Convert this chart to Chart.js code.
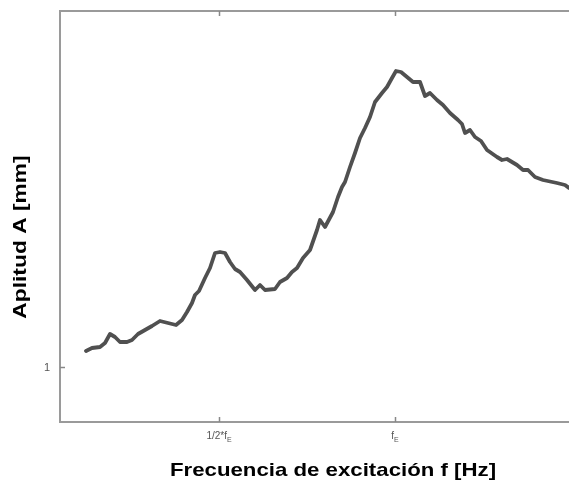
<!DOCTYPE html>
<html><head><meta charset="utf-8">
<script src="https://cdn.jsdelivr.net/npm/chart.js@4/dist/chart.umd.min.js"></script>
<style>html,body{margin:0;padding:0;background:#fff}</style>
</head><body>
<canvas id="c" width="569" height="482"></canvas>
<script>
// Frequency (Hz, with f_E = 352) and amplitude (mm)
const freq = [43,49,57,62,67,72,77,84,89,95,102,109,117,125,133,139,144,149,152,156,162,167,172,177,182,187,192,197,204,212,217,222,232,237,244,249,254,260,267,274,277,282,290,295,299,302,307,312,317,322,327,332,339,344,349,353,358,364,370,377,382,387,394,400,407,415,419,422,427,432,438,444,454,459,464,474,480,485,492,500,514,522,526];
const amplitude = [1.16,1.19,1.20,1.24,1.33,1.30,1.25,1.25,1.27,1.33,1.37,1.41,1.46,1.44,1.42,1.47,1.55,1.64,1.72,1.76,1.89,1.99,2.14,2.15,2.14,2.05,1.98,1.95,1.87,1.77,1.82,1.77,1.78,1.85,1.89,1.95,1.99,2.09,2.17,2.37,2.47,2.40,2.55,2.70,2.80,2.85,3.00,3.14,3.29,3.39,3.50,3.65,3.74,3.80,3.89,3.96,3.95,3.90,3.85,3.85,3.71,3.74,3.67,3.62,3.54,3.47,3.43,3.34,3.37,3.30,3.26,3.17,3.10,3.07,3.08,3.02,2.97,2.97,2.90,2.87,2.84,2.82,2.79];
const xTickValues = [176, 352];
const xTickMain = ['1/2*f', 'f'];
const xTickSub = ['E', 'E'];
const yTickValues = [1];
const yTickLabels = ['1'];
const xTitle = 'Frecuencia de excitación f [Hz]';
const yTitle = 'Aplitud A [mm]';

const AXIS = '#9a9a9a';

const decor = {
  id: 'decor',
  afterDraw(chart) {
    const ctx = chart.ctx, a = chart.chartArea;
    const xs = chart.scales.x, ys = chart.scales.y;
    ctx.save();
    ctx.strokeStyle = AXIS;
    ctx.lineWidth = 2;
    ctx.beginPath();
    ctx.moveTo(a.left - 1, a.top);
    ctx.lineTo(a.right, a.top);
    ctx.stroke();
    ctx.lineWidth = 1.5;
    ctx.strokeStyle = '#888';
    xTickValues.forEach(v => {
      const px = Math.round(xs.getPixelForValue(v)) + 0.5;
      ctx.beginPath();
      ctx.moveTo(px, a.bottom); ctx.lineTo(px, a.bottom - 5);
      ctx.moveTo(px, a.top); ctx.lineTo(px, a.top + 5);
      ctx.stroke();
    });
    yTickValues.forEach(v => {
      const py = Math.round(ys.getPixelForValue(v)) + 0.5;
      ctx.beginPath();
      ctx.moveTo(a.left, py); ctx.lineTo(a.left + 5, py);
      ctx.stroke();
    });
    // tick labels
    ctx.fillStyle = '#555';
    ctx.textBaseline = 'alphabetic';
    const mainFont = '10px "Liberation Sans", Arial, sans-serif';
    const subFont = '7px "Liberation Sans", Arial, sans-serif';
    xTickValues.forEach((v, i) => {
      const px = xs.getPixelForValue(v);
      ctx.font = mainFont;
      const w1 = ctx.measureText(xTickMain[i]).width;
      ctx.font = subFont;
      const w2 = ctx.measureText(xTickSub[i]).width;
      const x0 = px - (w1 + w2) / 2;
      ctx.textAlign = 'left';
      ctx.font = mainFont;
      ctx.fillText(xTickMain[i], x0, a.bottom + 17);
      ctx.font = subFont;
      ctx.fillText(xTickSub[i], x0 + w1, a.bottom + 20);
    });
    ctx.font = '11px "Liberation Sans", Arial, sans-serif';
    ctx.textAlign = 'right';
    ctx.textBaseline = 'middle';
    yTickValues.forEach((v, i) => {
      ctx.fillText(yTickLabels[i], a.left - 10, ys.getPixelForValue(v) + 1);
    });
    // titles
    ctx.fillStyle = '#000';
    ctx.font = 'bold 19px "Liberation Sans", Arial, sans-serif';
    ctx.textAlign = 'center';
    ctx.textBaseline = 'alphabetic';
    ctx.save();
    ctx.translate(333, 476);
    ctx.scale(1.17, 1);
    ctx.fillText(xTitle, 0, 0);
    ctx.restore();
    ctx.save();
    ctx.translate(26, 237);
    ctx.rotate(-Math.PI / 2);
    ctx.scale(1.2, 1);
    ctx.fillText(yTitle, 0, 0);
    ctx.restore();
    ctx.restore();
  }
};

new Chart(document.getElementById('c'), {
  type: 'line',
  data: {
    datasets: [{
      data: freq.map((f, i) => ({ x: f, y: amplitude[i] })),
      borderColor: '#505050',
      borderWidth: 3.8,
      pointRadius: 0,
      tension: 0,
      borderJoinStyle: 'round',
      borderCapStyle: 'round',
      fill: false
    }]
  },
  options: {
    responsive: false,
    animation: false,
    devicePixelRatio: 1,
    layout: { padding: { top: 11, right: 0, left: 0, bottom: 0 } },
    plugins: { legend: { display: false }, tooltip: { enabled: false } },
    scales: {
      x: {
        type: 'linear', min: 17, max: 526,
        grid: { display: false, drawTicks: false },
        border: { display: true, color: AXIS, width: 2 },
        ticks: { display: false },
        afterFit(s) { s.height = 60; }
      },
      y: {
        type: 'linear', min: 0.45, max: 4.56,
        grid: { display: false, drawTicks: false },
        border: { display: true, color: AXIS, width: 2 },
        ticks: { display: false },
        afterFit(s) { s.width = 60; }
      }
    }
  },
  plugins: [decor]
});
</script>
</body></html>
